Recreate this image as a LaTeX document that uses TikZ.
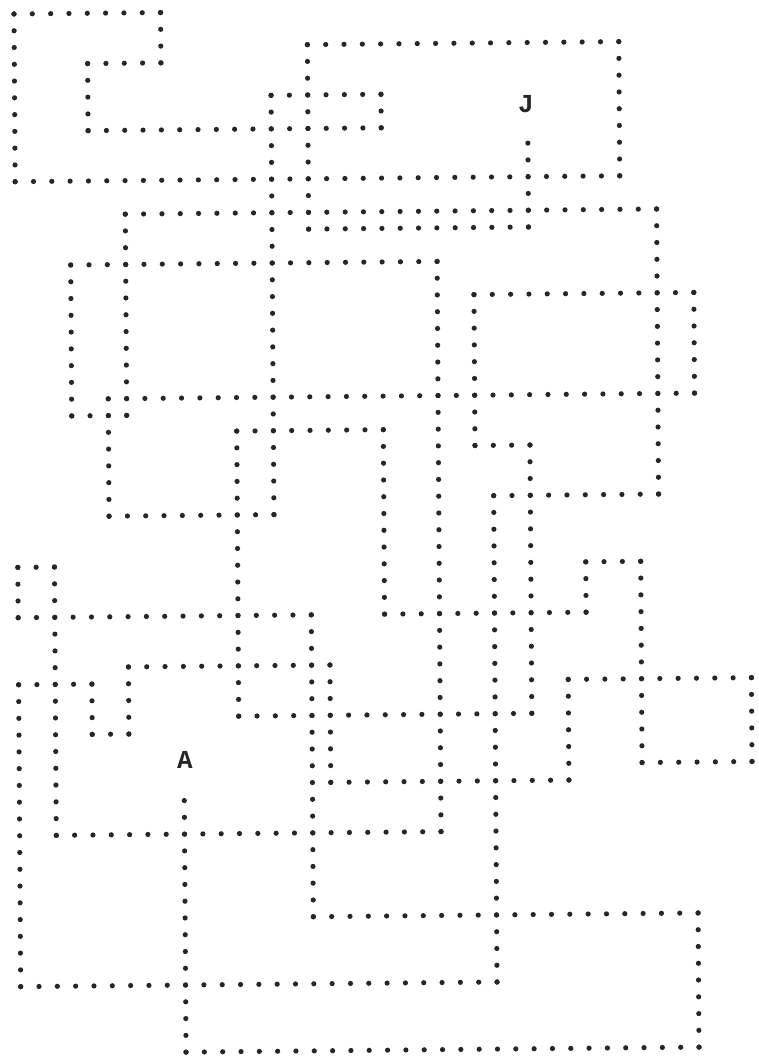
\documentclass[tikz,border=0pt]{standalone}
\usepackage{fontspec}
\newfontfamily\printfont{Liberation Mono}
\usepackage{tikz}

\begin{document}
\begin{tikzpicture}[
        grid/.style = {
            shift = {(14bp,1048bp)},
            x = {(18.32bp,0.179bp)},
            y = {(0.1155bp,-16.77bp)}
        },
        dot/.style = {fill = black!85},
        tag/.style = {
            inner sep = 0pt,
            text = black!85,
            font = \printfont\bfseries\fontsize{26}{26}\selectfont
        }
    ]
    \useasboundingbox (0,0) rectangle (759bp,1062bp);
    \begin{scope}[grid]
        % rows: row / first column / last column
        \foreach \r/\a/\b in {0/0/8, 3/4/8, 7/4/20, 5/14/20, 10/0/33, 2/16/33,
                13/16/28, 12/6/35, 15/3/23, 24/3/6, 23/5/37, 17/25/37,
                26/25/28, 29/26/35, 30/5/14, 25/12/20, 36/20/31, 33/31/34,
                40/30/40, 45/34/40, 46/17/30, 42/12/28, 39/6/17, 36/0/16,
                33/0/2, 40/0/4, 43/4/6, 49/2/23, 58/0/26, 54/16/37, 62/9/37}
            \foreach \c in {\a,...,\b}
                \fill[dot] (\c,\r) circle[radius=2.6bp];
        % columns: column / first row / last row
        \foreach \c/\a/\b in {8/0/3, 4/3/7, 20/5/7, 14/5/30, 0/0/10, 33/2/10,
                16/2/13, 28/8/13, 6/12/24, 3/15/24, 35/12/29, 5/23/30,
                37/17/23, 25/17/26, 12/25/42, 20/25/36, 23/15/49, 28/26/42,
                26/29/58, 31/33/36, 34/33/45, 40/40/45, 30/40/46, 17/39/46,
                0/33/36, 2/33/49, 0/40/58, 4/40/43, 6/39/43, 16/36/54,
                37/54/62, 9/47/62}
            \foreach \r in {\a,...,\b}
                \fill[dot] (\c,\r) circle[radius=2.6bp];
        \node[tag] (start) at (9.05,44.6) {A};
        \node[tag] (goal) at (27.9,5.65) {J};
    \end{scope}
\end{tikzpicture}
\end{document}
